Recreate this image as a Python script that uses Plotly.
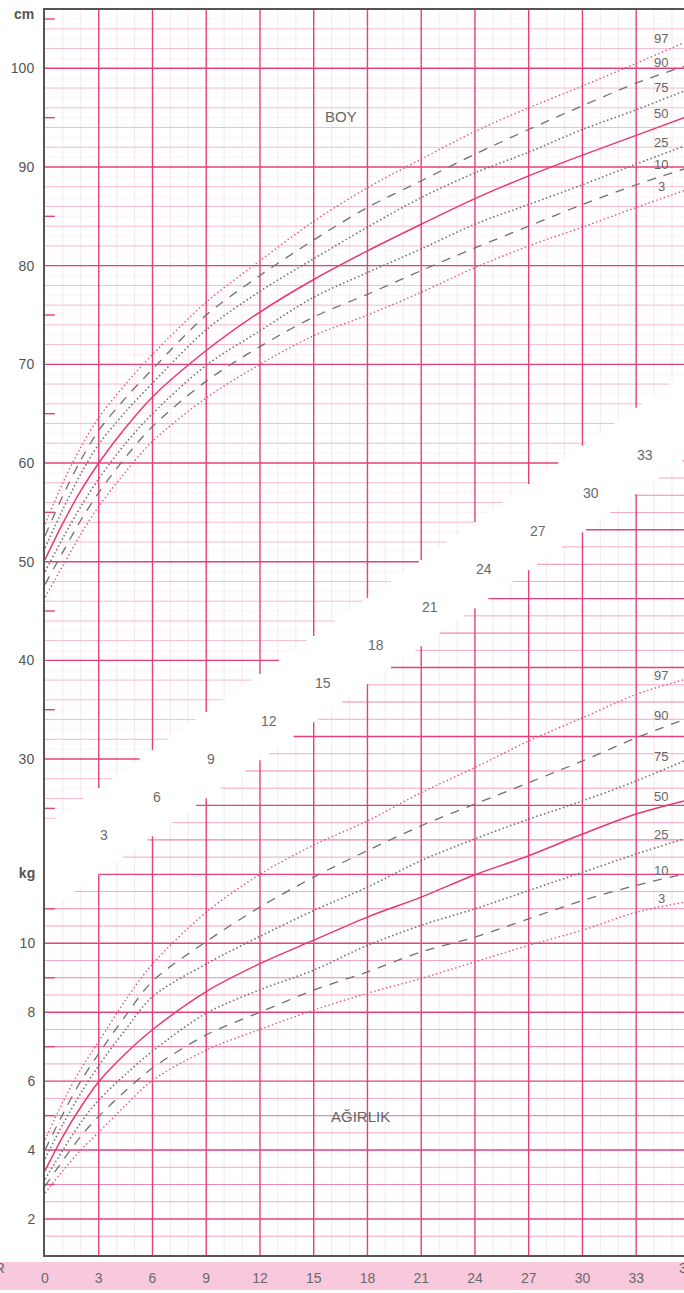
import plotly.graph_objects as go

# ---------------- data ----------------
months = [0, 1, 2, 3, 4.5, 6, 9, 12, 15, 18, 21, 24, 27, 30, 33, 35.67]

boy_p97 = [53.8, 58.0, 61.6, 64.6, 68.0, 71.0, 76.3, 80.5, 84.5, 87.9, 90.8, 93.6, 96.0, 98.2, 100.5, 102.6]
boy_p90 = [52.6, 56.7, 60.3, 63.3, 66.6, 69.5, 75.0, 79.0, 82.6, 85.9, 88.6, 91.3, 93.8, 96.2, 98.5, 100.2]
boy_p75 = [51.4, 55.3, 58.9, 61.9, 65.2, 68.1, 73.5, 77.4, 80.7, 83.9, 86.9, 89.4, 91.5, 93.8, 95.8, 97.7]
boy_p50 = [50.2, 53.9, 57.2, 60.0, 63.6, 66.7, 71.4, 75.3, 78.6, 81.5, 84.2, 86.8, 89.1, 91.2, 93.2, 95.0]
boy_p25 = [49.0, 52.4, 55.6, 58.4, 62.0, 65.0, 69.9, 73.4, 76.8, 79.3, 81.7, 84.2, 86.2, 88.2, 90.3, 92.1]
boy_p10 = [47.7, 51.0, 54.2, 57.0, 60.6, 63.7, 68.3, 71.8, 74.8, 77.1, 79.5, 81.8, 84.0, 86.2, 88.2, 89.8]
boy_p3 = [46.4, 49.6, 52.8, 55.6, 59.1, 62.2, 66.6, 70.0, 72.9, 75.0, 77.3, 79.8, 82.0, 83.9, 85.9, 87.6]

agirlik_p97 = [4.3, 5.4, 6.35, 7.15, 8.35, 9.4, 10.9, 12.0, 12.85, 13.55, 14.37, 15.1, 15.87, 16.54, 17.22, 17.65]
agirlik_p90 = [4.0, 5.05, 6.0, 6.8, 7.9, 8.9, 10.05, 11.05, 11.92, 12.69, 13.41, 14.04, 14.66, 15.29, 15.96, 16.49]
agirlik_p75 = [3.75, 4.75, 5.65, 6.45, 7.5, 8.45, 9.4, 10.2, 10.95, 11.63, 12.4, 13.03, 13.6, 14.13, 14.71, 15.29]
agirlik_p50 = [3.4, 4.4, 5.25, 5.98, 6.8, 7.49, 8.6, 9.41, 10.09, 10.76, 11.34, 11.99, 12.54, 13.17, 13.75, 14.13]
agirlik_p25 = [3.15, 4.0, 4.8, 5.45, 6.2, 6.87, 7.97, 8.65, 9.22, 9.94, 10.52, 11.0, 11.53, 12.06, 12.59, 13.03]
agirlik_p10 = [2.95, 3.7, 4.4, 4.98, 5.72, 6.38, 7.34, 8.0, 8.64, 9.17, 9.75, 10.18, 10.71, 11.24, 11.68, 12.01]
agirlik_p3 = [2.75, 3.4, 4.0, 4.52, 5.3, 6.02, 6.9, 7.5, 8.06, 8.55, 8.98, 9.46, 9.94, 10.38, 10.9, 11.19]

percentiles = [97, 90, 75, 50, 25, 10, 3]
month_ticks = [0, 3, 6, 9, 12, 15, 18, 21, 24, 27, 30, 33]
band_months = [3, 6, 9, 12, 15, 18, 21, 24, 27, 30, 33]
cm_ticks = [30, 40, 50, 60, 70, 80, 90, 100]
kg_ticks = [2, 4, 6, 8, 10]

boy_series = dict(zip(percentiles, [boy_p97, boy_p90, boy_p75, boy_p50, boy_p25, boy_p10, boy_p3]))
agirlik_series = dict(zip(percentiles, [agirlik_p97, agirlik_p90, agirlik_p75, agirlik_p50,
                                        agirlik_p25, agirlik_p10, agirlik_p3]))

# ---------------- geometry / style ----------------
X_MAX = 35.67
CM_LO, CM_HI = -20.26, 105.91
KG_LO, KG_HI = 0.955, 37.08
FONT = "Liberation Sans, Arial, sans-serif"

STRONG = "#e6407a"
MEDIUM = "#ee86af"
WLIGHT = "#f3a6c5"
LIGHT = "#f5bbd1"
FAINT = "#f9dfe9"
ULTRA = "#fcf0f4"


def cm_edge(m):
    return 27.07 + 1.284 * (m - 3)


def kg_edge(m):
    return 12.0 + 0.3677 * (m - 3)


def m_at_cm(c):
    return 3 + (c - 27.07) / 1.284


def m_at_kg(k):
    return 3 + (k - 12.0) / 0.3677


def seg_trace(segs, color, width, yaxis):
    xs, ys = [], []
    for (x0, x1), (y0, y1) in segs:
        xs += [x0, x1, None]
        ys += [y0, y1, None]
    return go.Scatter(x=xs, y=ys, mode="lines", yaxis=yaxis, hoverinfo="skip",
                      showlegend=False, line=dict(color=color, width=width))


# height grid (upper-left region)
h = {"strong": [], "light": [], "faint": [], "ultra": []}
for m in range(1, 36):
    seg = ((m, m), (cm_edge(m), CM_HI))
    h["strong" if m % 3 == 0 else "faint"].append(seg)
for c in range(24, 106):
    end = min(X_MAX, m_at_cm(c))
    if end <= 0:
        continue
    seg = ((0, end), (c, c))
    if c % 10 == 0:
        h["strong"].append(seg)
    elif c % 2 == 0:
        h["light"].append(seg)
    else:
        h["ultra"].append(seg)
h_ticks = [((0, 0.55), (c, c)) for c in range(25, 106, 10)]

# weight grid (lower-right region)
w = {"strong": [], "medium": [], "light": [], "faint": []}
for m in range(1, 36):
    seg = ((m, m), (KG_LO, kg_edge(m)))
    w["strong" if m % 3 == 0 else "faint"].append(seg)
for i in range(3, 49):
    k = i * 0.5
    start = max(0, m_at_kg(k))
    if start >= X_MAX:
        continue
    seg = ((start, X_MAX), (k, k))
    if i % 4 == 0:
        w["strong"].append(seg)
    elif i % 2 == 0:
        w["medium"].append(seg)
    else:
        w["light"].append(seg)
w_ticks = [((0, 0.55), (k, k)) for k in range(3, 12, 2)]

traces = [
    seg_trace(h["ultra"], ULTRA, 0.8, "y"),
    seg_trace(h["faint"], FAINT, 0.8, "y"),
    seg_trace(w["faint"], FAINT, 0.8, "y2"),
    seg_trace(h["light"], LIGHT, 1.0, "y"),
    seg_trace(w["light"], WLIGHT, 1.0, "y2"),
    seg_trace(w["medium"], MEDIUM, 1.1, "y2"),
    seg_trace(h["strong"], STRONG, 1.4, "y"),
    seg_trace(w["strong"], STRONG, 1.4, "y2"),
    seg_trace(h_ticks, STRONG, 1.4, "y"),
    seg_trace(w_ticks, STRONG, 1.4, "y2"),
]

DOT = "1.5px,2.5px"
styles = {
    97: dict(color="#e25580", dash=DOT, width=1.4),
    90: dict(color="#707070", dash="9px,8px", width=1.3),
    75: dict(color="#707070", dash=DOT, width=1.6),
    50: dict(color="#e8386d", dash="solid", width=1.5),
    25: dict(color="#707070", dash=DOT, width=1.6),
    10: dict(color="#707070", dash="9px,8px", width=1.3),
    3: dict(color="#e25580", dash=DOT, width=1.4),
}

for series, yax in ((boy_series, "y"), (agirlik_series, "y2")):
    for p in percentiles:
        traces.append(go.Scatter(x=months, y=series[p], mode="lines", yaxis=yax,
                                 line=dict(shape="spline", smoothing=0.9, **styles[p]),
                                 hoverinfo="skip", showlegend=False))

fig = go.Figure(traces)

annotations = []
# percentile labels at the right end of every curve
for series, yref in ((boy_series, "y"), (agirlik_series, "y2")):
    for p in percentiles:
        annotations.append(dict(x=34.39, y=series[p][-1], xref="x", yref=yref, text=str(p),
                                showarrow=False, yshift=4,
                                font=dict(family=FONT, size=13, color="#666666")))

# month labels in the white diagonal band
for m in band_months:
    frac = (cm_edge(m) - CM_LO) / (CM_HI - CM_LO)
    kg_top = KG_LO + frac * (KG_HI - KG_LO)
    mid = (kg_top + kg_edge(m)) / 2
    annotations.append(dict(x=m, y=mid, xref="x", yref="y2", text=str(m), showarrow=False,
                            xanchor="left", xshift=-1, yshift=-4,
                            font=dict(family=FONT, size=14, color="#6a6a6a")))

annotations += [
    dict(x=16.52, y=95.07, xref="x", yref="y", text="BOY", showarrow=False,
         font=dict(family=FONT, size=15, color="#666666")),
    dict(x=17.59, y=4.96, xref="x", yref="y2", text="AĞIRLIK", showarrow=False,
         font=dict(family=FONT, size=15, color="#666666")),
    dict(x=1.0204, y=-0.0185, xref="paper", yref="paper", text="36", showarrow=False,
         font=dict(family=FONT, size=14, color="#6a6a6a")),
    dict(x=-0.0595, y=-0.0185, xref="paper", yref="paper", text="AYLAR", showarrow=False,
         xanchor="right", font=dict(family=FONT, size=14, color="#6a6a6a")),
]

shapes = [
    dict(type="rect", xref="paper", yref="paper", x0=-0.08, x1=1.0, y0=-0.0281, y1=-0.0056,
         fillcolor="#f8c8dc", line=dict(width=0), layer="below"),
]

fig.update_layout(
    width=684, height=1293,
    margin=dict(l=45, r=0, t=10, b=38),
    paper_bgcolor="white", plot_bgcolor="white",
    font=dict(family=FONT, color="#555555"),
    showlegend=False,
    annotations=annotations,
    shapes=shapes,
    xaxis=dict(range=[0, X_MAX], tickvals=month_ticks, ticktext=[str(v) for v in month_ticks],
               showgrid=False, zeroline=False, showline=True, mirror=True,
               linecolor="#555555", linewidth=2,
               ticks="outside", ticklen=9, tickcolor="rgba(0,0,0,0)",
               tickfont=dict(family=FONT, size=14, color="#6a6a6a")),
    yaxis=dict(range=[CM_LO, CM_HI], tickvals=cm_ticks + [105.5],
               ticktext=[str(v) for v in cm_ticks] + ["<b>cm</b>"],
               showgrid=False, zeroline=False, showline=True, linecolor="#555555", linewidth=2,
               ticks="outside", ticklen=6, tickcolor="rgba(0,0,0,0)",
               tickfont=dict(family=FONT, size=14, color="#555555")),
    yaxis2=dict(range=[KG_LO, KG_HI], overlaying="y", side="left", anchor="x",
                tickvals=kg_ticks + [12.05],
                ticktext=[str(v) for v in kg_ticks] + ["<b>kg</b>"],
                showgrid=False, zeroline=False, showline=False,
                ticks="outside", ticklen=6, tickcolor="rgba(0,0,0,0)",
                tickfont=dict(family=FONT, size=14, color="#555555")),
)

fig.write_html("out.html", config={"displayModeBar": False},
               post_script="document.body.style.margin='0';")
